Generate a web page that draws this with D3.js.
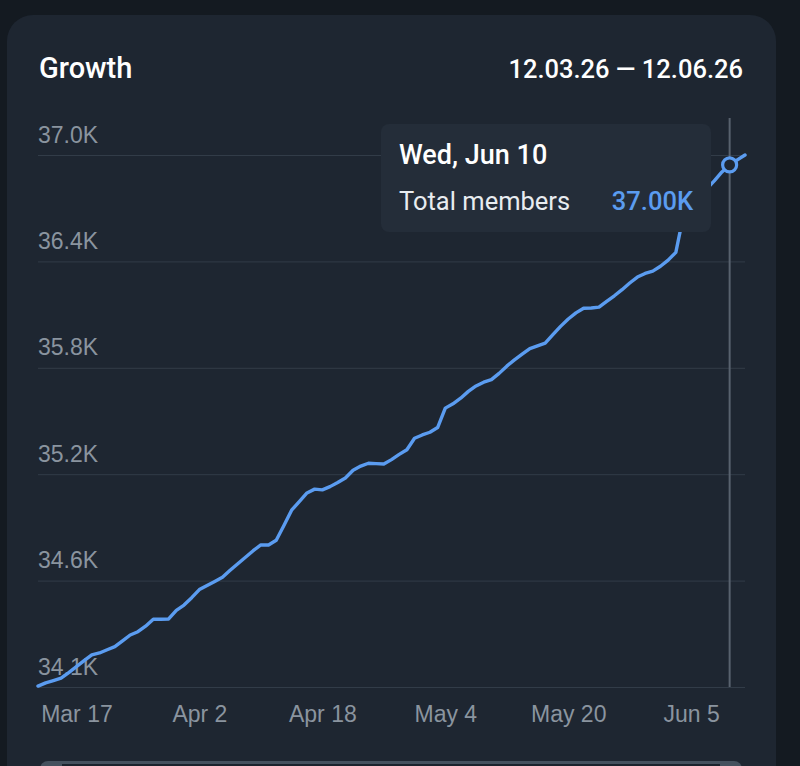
<!DOCTYPE html>
<html lang="en">
<head>
<meta charset="UTF-8">
<title>Growth</title>
<style>
	body { margin: 0; background: #141a21; }
	svg { display: block; font-family: Roboto, "Noto Sans", sans-serif; }
	.y-axis text, .x-axis text { fill: #8a949f; font-size: 23px; }
	.y-axis line { stroke: #323c48; stroke-width: 1; }
	.domain { display: none; }
</style>
<script src="https://d3js.org/d3.v7.min.js"></script>
</head>
<body>
<script>

// one value per day, 12 Mar 2026 .. 12 Jun 2026
const startDate = new Date(2026, 2, 12);
const members = [
	34105, 34123, 34136, 34149, 34180, 34213, 34246, 34278, 34289, 34307,
	34324, 34356, 34389, 34407, 34438, 34476, 34476, 34478, 34526, 34555,
	34596, 34641, 34664, 34686, 34709, 34748, 34785, 34821, 34857, 34889,
	34889, 34915, 34997, 35082, 35130, 35178, 35199, 35195, 35213, 35236,
	35261, 35304, 35327, 35343, 35341, 35339, 35363, 35392, 35418, 35482,
	35500, 35515, 35541, 35649, 35673, 35704, 35742, 35772, 35793, 35807,
	35842, 35882, 35917, 35949, 35980, 35995, 36010, 36057, 36103, 36144,
	36178, 36204, 36205, 36210, 36242, 36273, 36307, 36344, 36377, 36397,
	36410, 36437, 36471, 36514, 36722, 36772, 36822, 36866, 36911, 36961,
	37000, 37028, 37055
];
const yTicks = [34100, 34691, 35282, 35873, 36464, 37055];
const yTickLabels = ["34.1K", "34.6K", "35.2K", "35.8K", "36.4K", "37.0K"];
const xTicks = [new Date(2026, 2, 17), new Date(2026, 3, 2), new Date(2026, 3, 18),
                new Date(2026, 4, 4), new Date(2026, 4, 20), new Date(2026, 5, 5)];
const hoverIndex = 90; // Wed, Jun 10

const data = members.map((v, i) => ({ date: d3.timeDay.offset(startDate, i), value: v }));

const w = 800, h = 766;
const svg = d3.select("body").append("svg")
	.attr("width", w)
	.attr("height", h);

// card
svg.append("rect")
	.attr("x", 7).attr("y", 15)
	.attr("width", 769).attr("height", 800)
	.attr("rx", 26)
	.attr("fill", "#1e2631");

svg.append("text")
	.attr("x", 39).attr("y", 78)
	.attr("fill", "#ffffff")
	.attr("font-size", 29).attr("font-weight", 500)
	.text("Growth");

svg.append("text")
	.attr("x", 743).attr("y", 78)
	.attr("text-anchor", "end")
	.attr("fill", "#ffffff")
	.attr("font-size", 25.5).attr("font-weight", 500)
	.text("12.03.26 \u2014 12.06.26");

const xScale = d3.scaleTime()
	.domain([startDate, d3.timeDay.offset(startDate, members.length - 1)])
	.range([38, 745]);

const yScale = d3.scaleLinear()
	.domain([yTicks[0], yTicks[yTicks.length - 1]])
	.range([687, 155]);

// y axis with grid lines, labels sit above the lines
const yAxis = d3.axisRight(yScale)
	.tickValues(yTicks)
	.tickFormat((d, i) => yTickLabels[i])
	.tickSize(707)
	.tickPadding(0);
const gy = svg.append("g")
	.attr("class", "y-axis")
	.attr("transform", "translate(38,0)")
	.call(yAxis);
gy.selectAll("text")
	.attr("x", 0).attr("dy", -13)
	.attr("text-anchor", "start");

// x axis
const xAxis = d3.axisBottom(xScale)
	.tickValues(xTicks)
	.tickFormat(d3.timeFormat("%b %-d"))
	.tickSize(0)
	.tickPadding(0);
svg.append("g")
	.attr("class", "x-axis")
	.attr("transform", "translate(0,701)")
	.call(xAxis)
	.selectAll("text").attr("dy", "0.9em");

// hover rule
const hx = xScale(data[hoverIndex].date);
svg.append("line")
	.attr("x1", hx).attr("x2", hx)
	.attr("y1", 118).attr("y2", 687)
	.attr("stroke", "#58626e").attr("stroke-width", 2);

const line = d3.line()
	.x(d => xScale(d.date))
	.y(d => yScale(d.value));

svg.append("path")
	.datum(data)
	.attr("d", line)
	.attr("fill", "none")
	.attr("stroke", "#5b9cf0")
	.attr("stroke-width", 3.4)
	.attr("stroke-linejoin", "round")
	.attr("stroke-linecap", "round");

svg.append("circle")
	.attr("cx", hx).attr("cy", yScale(data[hoverIndex].value))
	.attr("r", 7)
	.attr("fill", "#1e2631")
	.attr("stroke", "#5b9cf0").attr("stroke-width", 3.2);

// tooltip
const tip = svg.append("g").attr("transform", "translate(381,124)");
tip.append("rect")
	.attr("width", 330).attr("height", 108)
	.attr("rx", 8)
	.attr("fill", "#242d39");
tip.append("text")
	.attr("x", 18).attr("y", 40)
	.attr("fill", "#ffffff")
	.attr("font-size", 27).attr("font-weight", 500)
	.text(d3.timeFormat("%a, %b %-d")(data[hoverIndex].date));
tip.append("text")
	.attr("x", 18).attr("y", 86)
	.attr("fill", "#e8ecf0")
	.attr("font-size", 25.5)
	.text("Total members");
tip.append("text")
	.attr("x", 312).attr("y", 86)
	.attr("text-anchor", "end")
	.attr("fill", "#5b9cf0")
	.attr("font-size", 25.5).attr("font-weight", 500)
	.text((data[hoverIndex].value / 1000).toFixed(2) + "K");

// navigator strip at the bottom (cut off)
svg.append("rect")
	.attr("x", 40).attr("y", 761)
	.attr("width", 702).attr("height", 30)
	.attr("rx", 8)
	.attr("fill", "#45515e");
svg.append("rect")
	.attr("x", 62).attr("y", 764)
	.attr("width", 658).attr("height", 30)
	.attr("fill", "#1b232d");

</script>
</body>
</html>
